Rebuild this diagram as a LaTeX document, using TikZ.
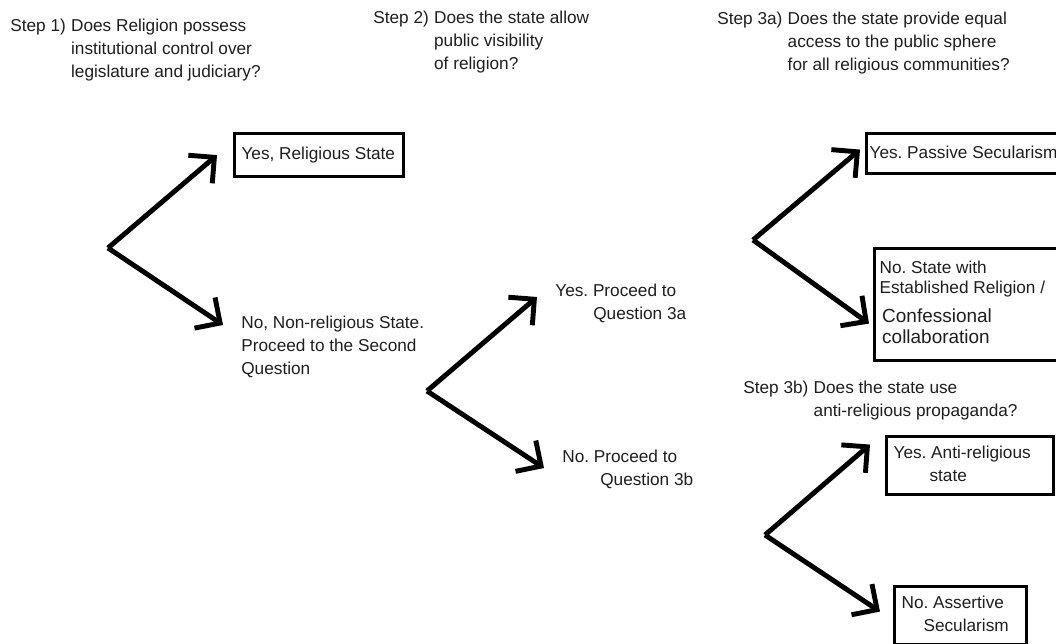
\documentclass[tikz,border=0pt]{standalone}
\usepackage{fontspec}
\setmainfont{Liberation Sans}
\usetikzlibrary{arrows.meta}
\definecolor{inkgray}{RGB}{30,30,30}
\newcommand{\qfont}{\fontsize{9.8}{13}\selectfont}
\newcommand{\bigqfont}{\fontsize{10.8}{13}\selectfont}
% box text: total width, left pad, lines
\newcommand{\verdicttext}[3]{\makebox[#1][l]{\hspace{#2}\begin{tabular}{@{}l@{}}#3\end{tabular}}}
\frenchspacing

\begin{document}
\begin{tikzpicture}[
    x=0.02cm, y=-0.02cm,
    question/.style={anchor=base west, inner sep=0pt, text=inkgray, font=\qfont},
    answer/.style={anchor=base west, inner sep=0pt, text=inkgray, font=\qfont},
    verdict/.style={draw=black, line width=1.8pt, anchor=north west, inner sep=0pt, text=inkgray, font=\qfont},
    fork/.style={-{Straight Barb[length=10.5pt,width=21pt]}, line width=2.8pt}
]
    \useasboundingbox (0,0) rectangle (1056,644);
    \clip (0,0) rectangle (1056,644);

    % Questions
    \node[question] (s1) at (10,32) {\begin{tabular}[t]{@{}l@{\hspace{3pt}}l@{}}Step 1) & Does Religion possess\\ & institutional control over\\ & legislature and judiciary?\end{tabular}};
    \node[question] (s2) at (373,24) {\begin{tabular}[t]{@{}l@{\hspace{3pt}}l@{}}Step 2) & Does the state allow\\ & public visibility\\ & of religion?\end{tabular}};
    \node[question] (s3a) at (717,25) {\begin{tabular}[t]{@{}l@{\hspace{3pt}}l@{}}Step 3a) & Does the state provide equal\\ & access to the public sphere\\ & for all religious communities?\end{tabular}};
    \node[question] (s3b) at (743,394) {\begin{tabular}[t]{@{}l@{\hspace{3pt}}l@{}}Step 3b) & Does the state use\\ & anti-religious propaganda?\end{tabular}};

    % Answers to step 1 and 2
    \node[verdict, minimum height=0.86cm] (yes1) at (233,132) {\verdicttext{3.38cm}{0.14cm}{Yes, Religious State}};
    \node[answer] (no1) at (241,329) {\begin{tabular}[t]{@{}l@{}}No, Non-religious State.\\ Proceed to the Second\\ Question\end{tabular}};
    \node[answer] (yes2) at (555,297) {\begin{tabular}[t]{@{}l@{}}Yes. Proceed to\\ \hspace{0.76cm}Question 3a\end{tabular}};
    \node[answer] (no2) at (562,463) {\begin{tabular}[t]{@{}l@{}}No. Proceed to\\ \hspace{0.76cm}Question 3b\end{tabular}};

    % Outcomes of step 3
    \node[verdict, minimum height=0.8cm] (yes3a) at (865,132) {\verdicttext{4.4cm}{0.06cm}{Yes. Passive Secularism}};
    \node[verdict, minimum height=2.24cm] (no3a) at (873,247) {\renewcommand{\arraystretch}{0.87}\verdicttext{3.66cm}{0.1cm}{No. State with\\ Established Religion /\\[5.7pt] \bigqfont\hspace{1.5pt}Confessional\\[0.6pt] \bigqfont\hspace{1.5pt}collaboration}};
    \node[verdict, minimum height=1.16cm] (yes3b) at (885,435) {\verdicttext{3.34cm}{0.14cm}{Yes. Anti-religious\\ \hspace{0.72cm}state}};
    \node[verdict, minimum height=1.16cm] (no3b) at (893,585) {\verdicttext{2.64cm}{0.14cm}{No. Assertive\\ \hspace{0.44cm}Secularism}};

    % Forks
    \coordinate (q1) at (108,248);
    \coordinate (q2) at (427,391);
    \coordinate (q3a) at (753,240);
    \coordinate (q3b) at (765,535);

    \draw[fork] (q1) -- ([xshift=-0.32cm]yes1.west);
    \draw[fork] (q1) -- ([shift={(-18,-4)}]no1.base west);
    \draw[fork] (q2) -- ([shift={(-18,0)}]yes2.base west);
    \draw[fork] (q2) -- ([shift={(-18,5)}]no2.base west);
    \draw[fork] (q3a) -- ([shift={(-5,-4)}]yes3a.west);
    \draw[fork] (q3a) -- ([shift={(-4,19)}]no3a.west);
    \draw[fork] (q3b) -- ([shift={(-15,-21)}]yes3b.west);
    \draw[fork] (q3b) -- ([shift={(-13,-4)}]no3b.west);
\end{tikzpicture}
\end{document}
